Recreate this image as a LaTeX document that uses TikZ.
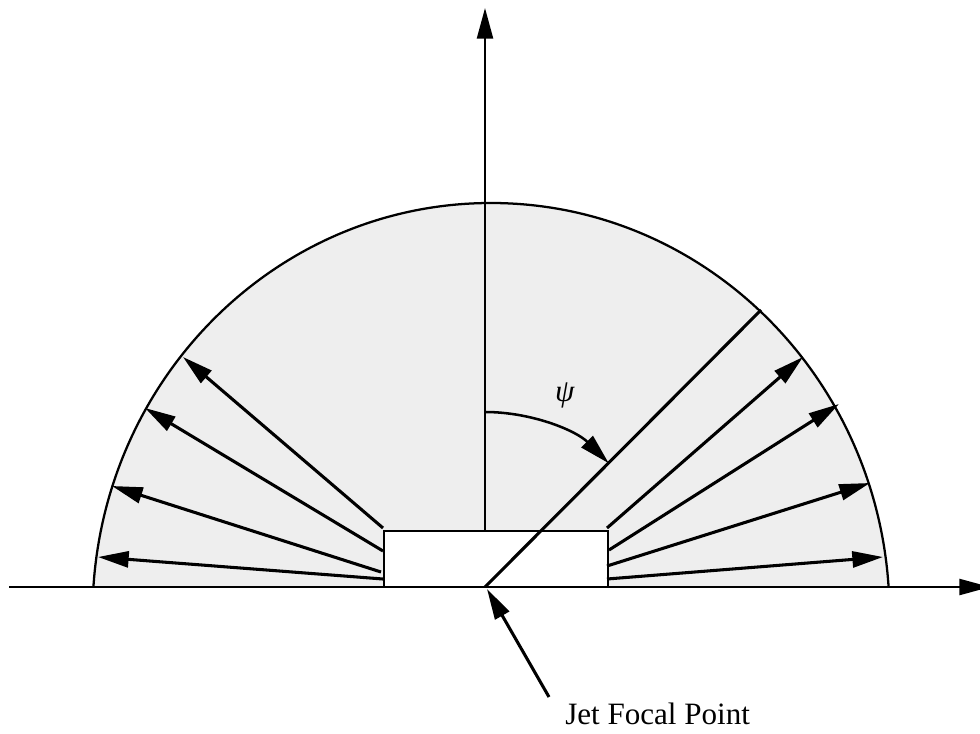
\documentclass[tikz,border=0pt]{standalone}
\usepackage{fontspec}
\setmainfont{Liberation Serif}
\usetikzlibrary{arrows.meta}
\definecolor{regiongray}{HTML}{EEEEEE}
\tikzset{
  tip/.style={-{Triangle[length=23pt,width=12pt]}},
  axisline/.style={line width=1.8pt, tip},
  ray/.style={line width=2.3pt, tip},
  outline/.style={line width=1.7pt},
  lbl/.style={inner sep=0pt, font=\fontsize{23.3}{28}\selectfont}
}
\begin{document}
\begin{tikzpicture}[x=0.75pt,y=0.75pt]
\useasboundingbox (0,0) rectangle (980,-734);
% shaded region
\begin{scope}
  \clip (0,0) rectangle (980,-587);
  \filldraw[fill=regiongray, outline] (491,-615) ellipse [x radius=398.5, y radius=412];
\end{scope}
% coordinates
\coordinate (F) at (485,-587);
\coordinate (Xs) at (9,-587);
\coordinate (Xe) at (990,-587);
\coordinate (Ys) at (485,-531);
\coordinate (Ye) at (485,-8);
\coordinate (D) at (761,-310);
% box
\draw[outline, fill=white] (384,-531) rectangle (608,-587);
% axes
\draw[axisline] (Xs) -- (Xe);
\draw[axisline] (Ys) -- (Ye);
% diagonal
\draw[line width=2.3pt] (F) -- (D);
% left rays
\coordinate (l1s) at (383,-528); \coordinate (l1e) at (183,-357);
\coordinate (l2s) at (383,-551); \coordinate (l2e) at (145,-408);
\coordinate (l3s) at (381,-572); \coordinate (l3e) at (112,-486);
\coordinate (l4s) at (383,-579); \coordinate (l4e) at (98,-557);
\draw[ray] (l1s) -- (l1e);
\draw[ray] (l2s) -- (l2e);
\draw[ray] (l3s) -- (l3e);
\draw[ray] (l4s) -- (l4e);
% right rays
\coordinate (r1s) at (607,-528); \coordinate (r1e) at (803,-357);
\coordinate (r2s) at (609,-550); \coordinate (r2e) at (839,-404);
\coordinate (r3s) at (607,-566); \coordinate (r3e) at (870,-483);
\coordinate (r4s) at (607,-579); \coordinate (r4e) at (883,-557);
\draw[ray] (r1s) -- (r1e);
\draw[ray] (r2s) -- (r2e);
\draw[ray] (r3s) -- (r3e);
\draw[ray] (r4s) -- (r4e);
% angle arc
\coordinate (A) at (485,-412);
\draw[line width=1.9pt, tip] (A) arc[start angle=90, end angle=45, radius=175];
\node[lbl] (psi) at (565,-395) {\textit{ψ}};
% jet focal point
\coordinate (Js) at (549,-697);
\coordinate (Je) at (487,-589);
\draw[ray] (Js) -- (Je);
\node[lbl, anchor=base west] (jfp) at (565,-724) {Jet Focal Point};
\end{tikzpicture}
\end{document}
